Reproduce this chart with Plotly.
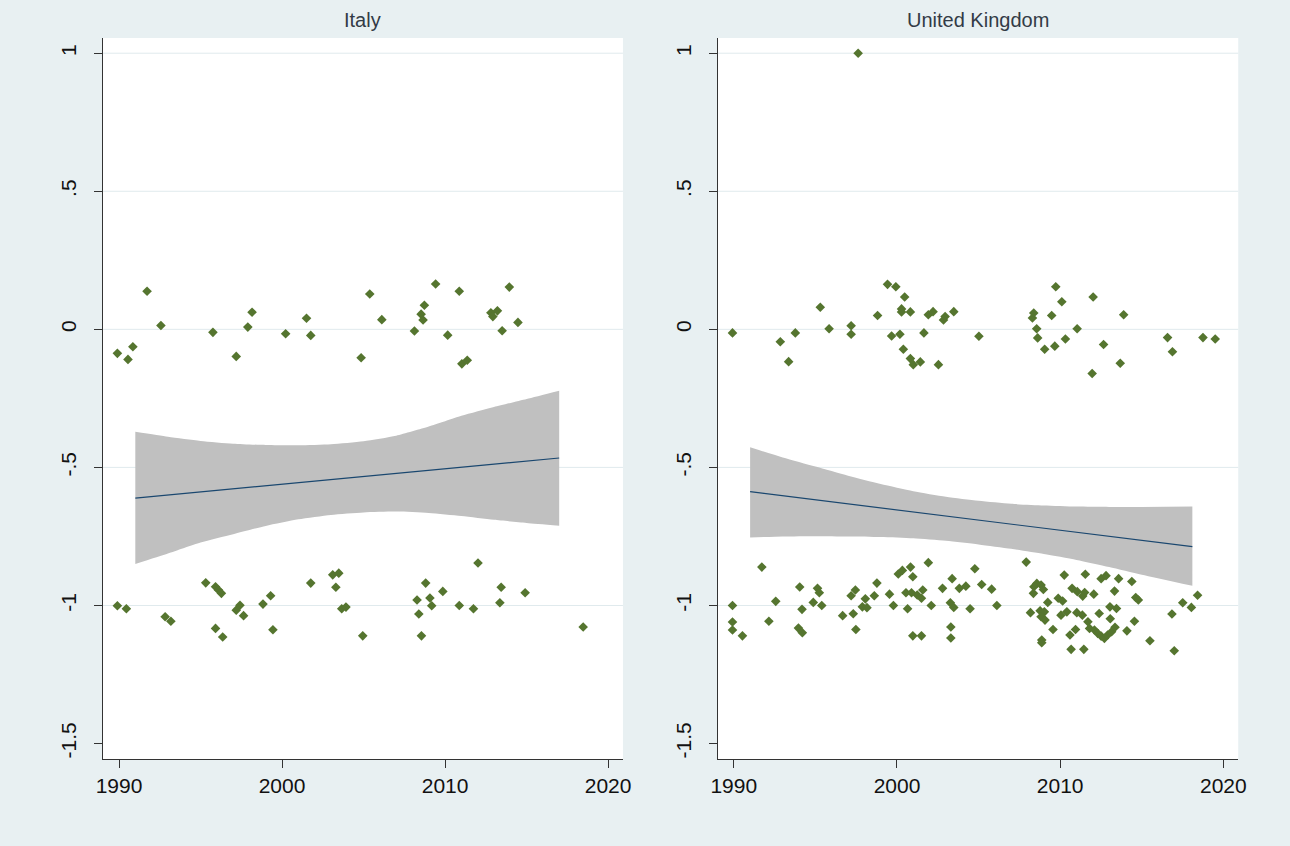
import plotly.graph_objects as go

# ---- axis settings -------------------------------------------------------
YEAR_TICKS = [1990, 2000, 2010, 2020]
Y_TICKS = [1, 0.5, 0, -0.5, -1, -1.5]
Y_TICK_TEXT = ["1", ".5", "0", "-.5", "-1", "-1.5"]
GRID_VALUES = [1, 0.5, 0, -0.5, -1]
PANELS = ["Italy", "United Kingdom"]

# ---- Italy: observations -------------------------------------------------
italy_year = [
    1989.90, 1990.55, 1990.85, 1991.72, 1992.57, 1995.76, 1997.19, 1997.90,
    1998.16, 2000.22, 2001.50, 2001.76, 2004.85, 2005.38, 2006.12, 2008.12,
    2008.53, 2008.65, 2008.73, 2009.42, 2010.16, 2010.87, 2011.03, 2011.36,
    2012.81, 2012.93, 2013.21, 2013.50, 2013.94, 2014.47,
    1989.90, 1990.45, 1992.83, 1993.18, 1995.32, 1995.92, 1996.10, 1996.28,
    1995.92, 1996.36, 1997.19, 1997.42, 1997.64, 1998.83, 1999.30, 1999.44,
    2001.76, 2003.11, 2003.48, 2003.30, 2003.66, 2003.92, 2004.95, 2008.28,
    2008.39, 2008.55, 2008.81, 2009.07, 2009.18, 2009.86, 2010.87, 2011.74,
    2012.02, 2013.36, 2013.44, 2014.91, 2018.47,
]
italy_value = [
    -0.087, -0.109, -0.063, 0.138, 0.014, -0.011, -0.098, 0.008,
    0.062, -0.016, 0.040, -0.022, -0.103, 0.128, 0.035, -0.006,
    0.055, 0.034, 0.087, 0.164, -0.021, 0.138, -0.125, -0.112,
    0.060, 0.046, 0.067, -0.005, 0.153, 0.025,
    -1.001, -1.012, -1.041, -1.057, -0.918, -0.932, -0.944, -0.956,
    -1.083, -1.114, -1.017, -0.999, -1.037, -0.995, -0.965, -1.088,
    -0.919, -0.889, -0.883, -0.934, -1.012, -1.006, -1.110, -0.980,
    -1.031, -1.110, -0.919, -0.973, -1.001, -0.949, -1.000, -1.012,
    -0.846, -0.990, -0.934, -0.954, -1.078,
]

# ---- Italy: linear fit and 95% band -------------------------------------
italy_fit_year = [1991.0, 2017.0]
italy_fit_value = [-0.611, -0.466]
italy_band_year = [1991, 1993, 1995, 1997, 1999, 2001, 2003,
                   2005, 2007, 2009, 2011, 2013, 2015, 2017]
italy_upper_value = [-0.371, -0.389, -0.404, -0.414, -0.419, -0.420, -0.416,
                     -0.405, -0.385, -0.352, -0.313, -0.281, -0.252, -0.222]
italy_lower_value = [-0.850, -0.812, -0.772, -0.742, -0.712, -0.688, -0.672,
                     -0.663, -0.660, -0.665, -0.676, -0.690, -0.701, -0.711]

# ---- United Kingdom: observations ----------------------------------------
uk_year = [
    # upper group
    1989.92, 1992.85, 1993.36, 1993.77, 1995.30, 1995.84, 1997.19, 1997.19,
    1998.81, 1999.42, 1999.93, 1999.67, 2000.18, 2000.47, 2000.28, 2000.28,
    2000.82, 2000.39, 2000.82, 2001.00, 2001.43, 2001.65, 2001.92, 2002.21,
    2002.54, 2002.85, 2002.95, 2003.48, 2005.02, 2008.30, 2008.38, 2008.56,
    2008.62, 2009.05, 2009.48, 2009.67, 2009.73, 2010.10, 2010.32, 2011.04,
    2011.96, 2012.02, 2012.66, 2013.68, 2013.89, 2016.58, 2016.88, 2018.75,
    2019.50, 1997.62,
    # lower group
    1989.92, 1989.92, 1989.92, 1990.53, 1991.72, 1992.15, 1992.57, 1994.04,
    1994.18, 1993.96, 1994.20, 1994.87, 1995.13, 1995.24, 1995.39, 1996.67,
    1997.19, 1997.45, 1997.32, 1997.48, 1997.88, 1998.06, 1998.16, 1998.61,
    1998.77, 1999.54, 1999.78, 2000.08, 2000.33, 2000.83, 2000.97, 2001.92,
    2000.55, 2000.89, 2001.24, 2001.50, 2001.58, 2000.65, 2000.97, 2001.50,
    2002.10, 2002.79, 2003.38, 2003.27, 2003.48, 2003.30, 2003.30, 2003.82,
    2004.77, 2004.22, 2005.19, 2005.80, 2004.48, 2006.12, 2007.92, 2008.39,
    2008.57, 2008.83, 2008.97, 2008.36, 2009.24, 2008.18, 2008.77, 2009.03,
    2008.83, 2009.07, 2008.87, 2008.87, 2009.56, 2009.88, 2010.15, 2010.05,
    2010.41, 2010.25, 2010.60, 2010.94, 2010.67, 2010.73, 2011.05, 2011.02,
    2011.36, 2011.38, 2011.54, 2011.50, 2012.06, 2011.45, 2011.70, 2011.80,
    2012.10, 2012.30, 2012.51, 2012.71, 2012.91, 2013.15, 2013.36, 2012.39,
    2013.07, 2013.05, 2013.45, 2012.51, 2012.81, 2013.33, 2013.58, 2014.39,
    2014.55, 2014.09, 2014.63, 2014.79, 2015.50, 2016.85, 2016.99, 2017.51,
    2018.04, 2018.42,
]
uk_value = [
    -0.013, -0.045, -0.117, -0.013, 0.080, 0.002, 0.013, -0.018,
    0.050, 0.163, 0.154, -0.024, -0.018, 0.117, 0.074, 0.063,
    0.063, -0.072, -0.106, -0.128, -0.118, -0.013, 0.053, 0.064,
    -0.128, 0.034, 0.046, 0.064, -0.025, 0.041, 0.059, 0.002,
    -0.031, -0.072, 0.050, -0.061, 0.154, 0.100, -0.035, 0.002,
    -0.160, 0.117, -0.055, -0.123, 0.053, -0.030, -0.081, -0.030,
    -0.035, 1.000,
    -1.000, -1.060, -1.089, -1.110, -0.861, -1.057, -0.985, -0.933,
    -1.014, -1.082, -1.099, -0.989, -0.938, -0.954, -1.000, -1.037,
    -0.965, -0.944, -1.030, -1.087, -1.005, -0.976, -1.008, -0.965,
    -0.919, -0.959, -1.000, -0.886, -0.873, -0.861, -0.896, -0.845,
    -0.954, -0.954, -0.962, -0.974, -0.944, -1.012, -1.110, -1.110,
    -1.000, -0.938, -0.903, -0.990, -1.007, -1.078, -1.118, -0.938,
    -0.867, -0.930, -0.924, -0.941, -1.012, -1.000, -0.843, -0.932,
    -0.920, -0.926, -0.942, -0.956, -0.989, -1.026, -1.019, -1.023,
    -1.041, -1.053, -1.125, -1.135, -1.087, -0.974, -0.984, -1.035,
    -1.023, -0.890, -1.107, -1.087, -1.159, -0.938, -0.950, -1.026,
    -1.035, -0.966, -0.887, -0.953, -0.959, -1.159, -1.059, -1.083,
    -1.089, -1.101, -1.111, -1.119, -1.107, -1.095, -1.079, -1.029,
    -1.048, -1.005, -1.011, -0.903, -0.892, -0.948, -0.903, -0.913,
    -1.057, -1.092, -0.971, -0.980, -1.128, -1.031, -1.164, -0.990,
    -1.007, -0.963,
]

# ---- United Kingdom: linear fit and 95% band ----------------------------
uk_fit_year = [1991.0, 2018.1]
uk_fit_value = [-0.588, -0.787]
uk_band_year = [1991, 1993, 1995, 1997, 1999, 2001, 2003,
                2005, 2007, 2009, 2011, 2013, 2015, 2018.1]
uk_upper_value = [-0.427, -0.464, -0.497, -0.530, -0.560, -0.586, -0.606,
                  -0.621, -0.632, -0.638, -0.642, -0.643, -0.643, -0.642]
uk_lower_value = [-0.754, -0.750, -0.749, -0.750, -0.752, -0.757, -0.766,
                  -0.779, -0.795, -0.814, -0.835, -0.861, -0.889, -0.929]

# ---- styling -------------------------------------------------------------
BG = "#E8F0F2"
GRID = "#E0EAED"
MARKER = "#55752F"
LINE = "#1A476F"
BAND = "#C0C0C0"
AXIS = "#333333"
FONT = "Liberation Sans, Arial, sans-serif"

X_RANGE = [1989.01, 2020.91]
Y_RANGE = [-1.556, 1.055]
X_DOMAINS = [[97 / 1290, 623.2 / 1290], [719 / 1290, 1245.7 / 1290]]
Y_DOMAIN = [1 - 759 / 846, 1 - 38 / 846]

panels = [
    (italy_year, italy_value, italy_fit_year, italy_fit_value,
     italy_band_year, italy_upper_value, italy_lower_value),
    (uk_year, uk_value, uk_fit_year, uk_fit_value,
     uk_band_year, uk_upper_value, uk_lower_value),
]

fig = go.Figure()
for i, (yr, val, fy, fv, by, uv, lv) in enumerate(panels):
    xa = "x" if i == 0 else "x2"
    ya = "y" if i == 0 else "y2"
    fig.add_trace(go.Scatter(
        x=yr, y=val, mode="markers", xaxis=xa, yaxis=ya,
        marker=dict(symbol="diamond", size=7.4, color=MARKER, line=dict(width=0)),
        showlegend=False, hoverinfo="skip"))
    fig.add_trace(go.Scatter(
        x=by, y=lv, mode="lines", xaxis=xa, yaxis=ya,
        line=dict(width=0, shape="spline", smoothing=0.6, color=BAND),
        showlegend=False, hoverinfo="skip"))
    fig.add_trace(go.Scatter(
        x=by, y=uv, mode="lines", xaxis=xa, yaxis=ya,
        line=dict(width=0, shape="spline", smoothing=0.6, color=BAND),
        fill="tonexty", fillcolor=BAND,
        showlegend=False, hoverinfo="skip"))
    fig.add_trace(go.Scatter(
        x=fy, y=fv, mode="lines", xaxis=xa, yaxis=ya,
        line=dict(width=1.2, color=LINE),
        showlegend=False, hoverinfo="skip"))
    for g in GRID_VALUES:
        fig.add_shape(type="line", xref=f"{xa} domain", yref=ya,
                      x0=0, x1=1, y0=g, y1=g, layer="below",
                      line=dict(color=GRID, width=1))
    fig.add_annotation(
        x=(X_DOMAINS[i][0] + X_DOMAINS[i][1]) / 2, y=1 - 20 / 846,
        xref="paper", yref="paper", text=PANELS[i], showarrow=False,
        xanchor="center", yanchor="middle",
        font=dict(family=FONT, size=20, color="#333B46"))

xaxis_style = dict(
    range=X_RANGE, tickmode="array", tickvals=YEAR_TICKS,
    ticks="outside", ticklen=8, tickcolor=AXIS, tickwidth=1,
    showline=True, linecolor=AXIS, linewidth=1, showgrid=False,
    zeroline=False, tickfont=dict(family=FONT, size=21, color="#111111"))
yaxis_style = dict(
    range=Y_RANGE, domain=Y_DOMAIN, tickmode="array", tickvals=Y_TICKS,
    ticktext=Y_TICK_TEXT, tickangle=-90, ticklabelstandoff=9,
    ticks="outside", ticklen=8, tickcolor=AXIS, tickwidth=1,
    showline=True, linecolor=AXIS, linewidth=1, showgrid=False,
    zeroline=False, tickfont=dict(family=FONT, size=21, color="#111111"))

fig.update_layout(
    width=1290, height=846,
    margin=dict(l=0, r=0, t=0, b=0),
    paper_bgcolor=BG, plot_bgcolor="#FFFFFF",
    xaxis=dict(domain=X_DOMAINS[0], anchor="y", **xaxis_style),
    yaxis=dict(anchor="x", **yaxis_style),
    xaxis2=dict(domain=X_DOMAINS[1], anchor="y2", **xaxis_style),
    yaxis2=dict(anchor="x2", **yaxis_style),
)

fig.write_html("out.html")
